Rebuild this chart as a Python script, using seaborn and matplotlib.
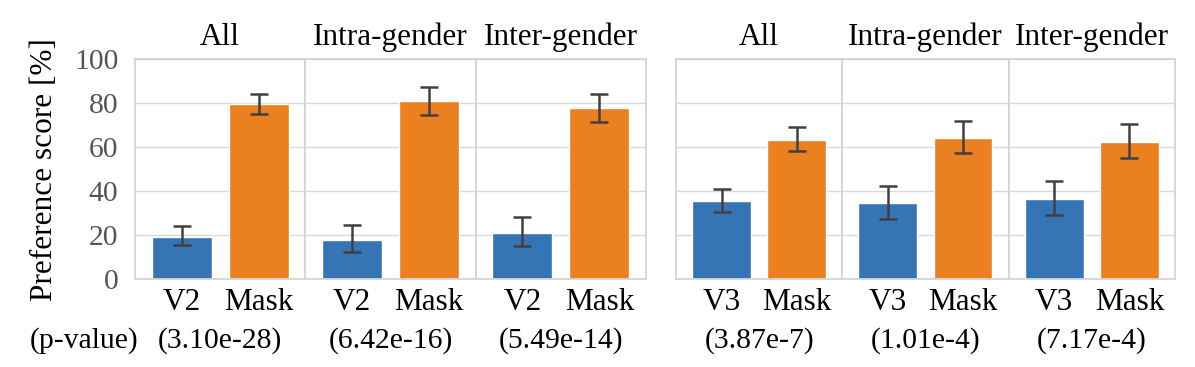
import numpy as np
import pandas as pd
import matplotlib
matplotlib.use("Agg")
import matplotlib.pyplot as plt
import seaborn as sns

# ---------------- data ----------------
subsets = ["All", "Intra-gender", "Inter-gender"]
methods_left = ["V2", "Mask"]
methods_right = ["V3", "Mask"]

v2_score = [19.3, 17.8, 21.0]
v2_ci_low = [15.4, 12.3, 15.3]
v2_ci_high = [24.3, 24.6, 28.1]
mask_vs_v2_score = [79.6, 81.1, 77.8]
mask_vs_v2_ci_low = [75.2, 74.9, 71.4]
mask_vs_v2_ci_high = [84.3, 87.3, 84.3]

v3_score = [35.4, 34.5, 36.5]
v3_ci_low = [30.5, 27.4, 29.2]
v3_ci_high = [41.1, 42.5, 44.5]
mask_vs_v3_score = [63.2, 64.3, 62.2]
mask_vs_v3_ci_low = [58.2, 57.2, 55.2]
mask_vs_v3_ci_high = [69.1, 72.0, 70.4]

pvalues_left = ["(3.10e-28)", "(6.42e-16)", "(5.49e-14)"]
pvalues_right = ["(3.87e-7)", "(1.01e-4)", "(7.17e-4)"]
yticks = [0, 20, 40, 60, 80, 100]

# ---------------- style ----------------
sns.set_theme(style="whitegrid")
plt.rcParams["font.family"] = ["Liberation Serif", "DejaVu Serif"]
plt.rcParams["axes.edgecolor"] = "#d4d4d4"
plt.rcParams["grid.color"] = "#d9d9d9"
FS = 22.5       # titles, x tick labels, y label
FS_Y = 21.3     # y tick labels
FS_P = 21.3     # p-value line
BLUE = "#3575b5"
ORANGE = "#eb8020"
ERR = "#404040"

W, H = 1195, 367
fig = plt.figure(figsize=(W / 100, H / 100), dpi=100)
y_top, y_bot = 59.3, 279.3


def rect(x0, w):
    return [x0 / W, 1 - y_bot / H, w / W, (y_bot - y_top) / H]


left_x = [135, 305.3, 475.7]
right_x = [676, 842.3, 1008.7]

groups = [
    (left_x, 170.3, methods_left,
     [v2_score, mask_vs_v2_score], [v2_ci_low, mask_vs_v2_ci_low],
     [v2_ci_high, mask_vs_v2_ci_high], pvalues_left, True),
    (right_x, 166.3, methods_right,
     [v3_score, mask_vs_v3_score], [v3_ci_low, mask_vs_v3_ci_low],
     [v3_ci_high, mask_vs_v3_ci_high], pvalues_right, False),
]

for xs, w, methods, scores, lows, highs, pvals, first_group in groups:
    for i, subset in enumerate(subsets):
        ax = fig.add_axes(rect(xs[i], w))
        means = [scores[0][i], scores[1][i]]
        lo = [lows[0][i], lows[1][i]]
        hi = [highs[0][i], highs[1][i]]
        df = pd.DataFrame({"method": methods, "score": means})
        sns.barplot(data=df, x="method", y="score", hue="method",
                    palette=[BLUE, ORANGE], saturation=1, width=0.78,
                    edgecolor="white", linewidth=1, legend=False, ax=ax)
        xpos = np.arange(len(methods))
        yerr = [np.array(means) - np.array(lo), np.array(hi) - np.array(means)]
        ax.errorbar(xpos, means, yerr=yerr, fmt="none", ecolor=ERR,
                    elinewidth=1.8, capsize=6.5, capthick=1.8, zorder=5)
        ax.set_xlim(-0.605, 1.605)
        ax.set_ylim(0, 100)
        ax.set_yticks(yticks)
        ax.grid(axis="x", visible=False)
        ax.set_xlabel("")
        ax.set_ylabel("")
        ax.set_title(subset, fontsize=FS, pad=10, color="black")
        ax.tick_params(axis="x", labelsize=FS, pad=6, length=0, labelcolor="black")
        ax.tick_params(axis="y", labelsize=FS_Y, pad=12, length=0, labelcolor="#555555")
        for s in ax.spines.values():
            s.set_color("#d4d4d4")
            s.set_linewidth(1.3)
        if first_group and i == 0:
            ax.set_ylabel("Preference score [%]", fontsize=FS, labelpad=11,
                          color="black")
        else:
            ax.tick_params(axis="y", labelleft=False)
        fig.text((xs[i] + w / 2) / W, 1 - 341 / H, pvals[i], fontsize=FS_P,
                 ha="center", va="center", color="black")

fig.text(84 / W, 1 - 341 / H, "(p-value)", fontsize=FS_P, ha="center",
         va="center", color="black")

fig.savefig("out.png", dpi=100)
